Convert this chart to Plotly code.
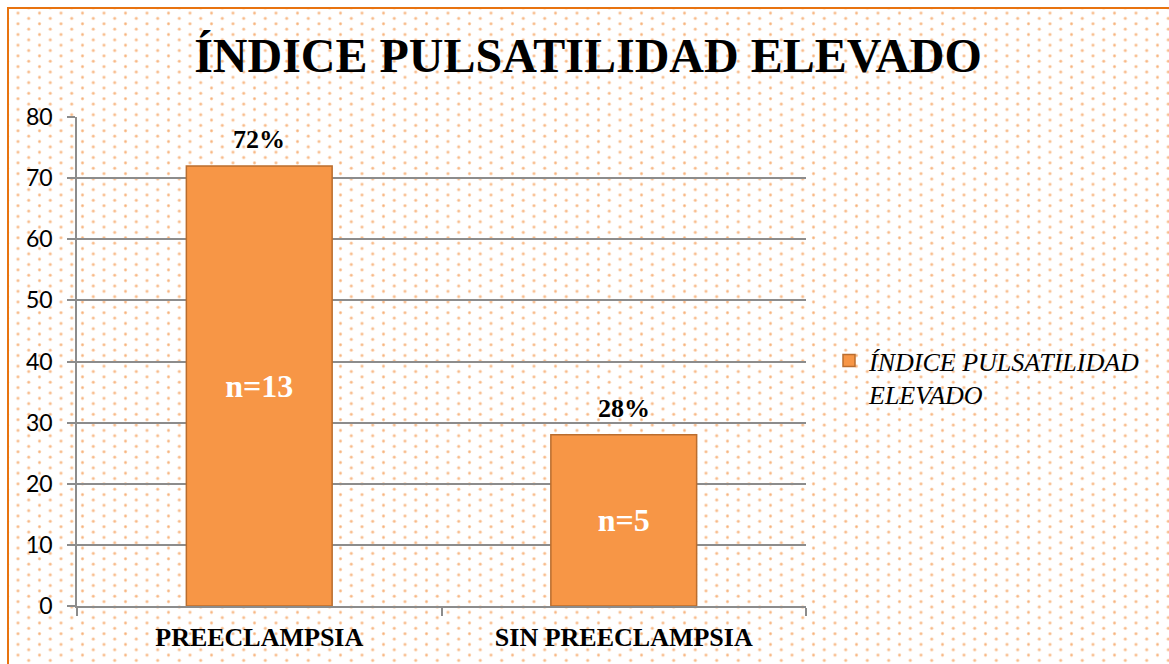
import base64
import plotly.graph_objects as go

categories = ["PREECLAMPSIA", "SIN PREECLAMPSIA"]
values = [72, 28]
inside_labels = ["n=13", "n=5"]
pct_labels = ["72%", "28%"]
series_name = "ÍNDICE PULSATILIDAD<br>ELEVADO"
title_text = "ÍNDICE PULSATILIDAD ELEVADO"
y_ticks = [0, 10, 20, 30, 40, 50, 60, 70, 80]

W, H = 1169, 664
ML, MR, MT, MB = 77, 363, 117, 58
PW, PH = W - ML - MR, H - MT - MB

# dotted background + orange frame
ox, oy = 12.625, 10.425
svg = (
    f'<svg xmlns="http://www.w3.org/2000/svg" width="{W}" height="{H}" viewBox="0 0 {W} {H}">'
    f'<defs><pattern id="p" x="{ox}" y="{oy}" width="21.5" height="10.7" patternUnits="userSpaceOnUse">'
    '<circle cx="5.375" cy="2.675" r="1.7" fill="#FAD3B2"/>'
    '<circle cx="5.375" cy="2.675" r="0.9" fill="#F7B27C"/>'
    '<circle cx="16.125" cy="8.025" r="1.7" fill="#FAD3B2"/>'
    '<circle cx="16.125" cy="8.025" r="0.9" fill="#F7B27C"/>'
    '</pattern></defs>'
    f'<rect x="0" y="0" width="{W}" height="{H}" fill="#FFFFFF"/>'
    f'<rect x="8" y="8" width="{W+20}" height="{H+20}" fill="url(#p)" stroke="#E8730F" stroke-width="2"/>'
    '</svg>'
)
uri = "data:image/svg+xml;base64," + base64.b64encode(svg.encode("utf-8")).decode("ascii")

serif = "Liberation Serif"

fig = go.Figure()
fig.add_trace(go.Bar(
    x=categories, y=values, name=series_name,
    text=inside_labels, textposition="inside", insidetextanchor="middle",
    textfont=dict(family=serif, size=32, color="white", weight="bold"),
    marker=dict(color="#F79646", line=dict(color="#BA6D2E", width=1.5)),
    showlegend=True, hoverinfo="skip",
))

annotations = []
for c, v, t in zip(categories, values, pct_labels):
    annotations.append(dict(
        x=c, y=v, xref="x", yref="y", text=f"<b>{t}</b>", showarrow=False,
        yanchor="bottom", yshift=10,
        font=dict(family=serif, size=26, color="black"),
    ))

fig.update_layout(
    width=W, height=H,
    margin=dict(l=ML, r=MR, t=MT, b=MB, autoexpand=False),
    paper_bgcolor="white",
    plot_bgcolor="#FCEEEA",
    bargap=0.6,
    font=dict(family=serif),
    title=dict(text=f"<b>{title_text}</b>", x=0.503, xref="container", xanchor="center",
               y=1 - 55 / H, yref="container", yanchor="middle",
               font=dict(family=serif, size=48, color="black", weight="bold")),
    legend=dict(x=(829 - ML) / PW, xanchor="left", y=1 - (337 - MT) / PH, yanchor="top",
                valign="top", bgcolor="rgba(0,0,0,0)",
                font=dict(family=serif, size=26, color="black", style="italic"),
                itemwidth=30),
    images=[dict(source=uri, xref="paper", yref="paper",
                 x=-ML / PW, y=1 + MT / PH, sizex=W / PW, sizey=H / PH,
                 sizing="stretch", xanchor="left", yanchor="top", layer="below")],
    annotations=annotations,
    xaxis=dict(showline=True, linecolor="#8C8C8C", linewidth=1.5,
               ticks="outside", tickson="boundaries", ticklen=8, tickcolor="#8C8C8C", tickwidth=1.5,
               tickfont=dict(family=serif, size=26, color="black", weight="bold"),
               showgrid=False, ticklabelstandoff=7),
    yaxis=dict(range=[0, 80], tickvals=y_ticks, showline=True, linecolor="#8C8C8C", linewidth=1.5,
               ticks="outside", ticklen=8, tickcolor="#8C8C8C", tickwidth=1.5,
               showgrid=True, gridcolor="#8C8C8C", gridwidth=1.5, zeroline=False,
               tickfont=dict(family="Lato", size=23, color="black"),
               ticklabelstandoff=10),
)

fig.write_html("out.html")
